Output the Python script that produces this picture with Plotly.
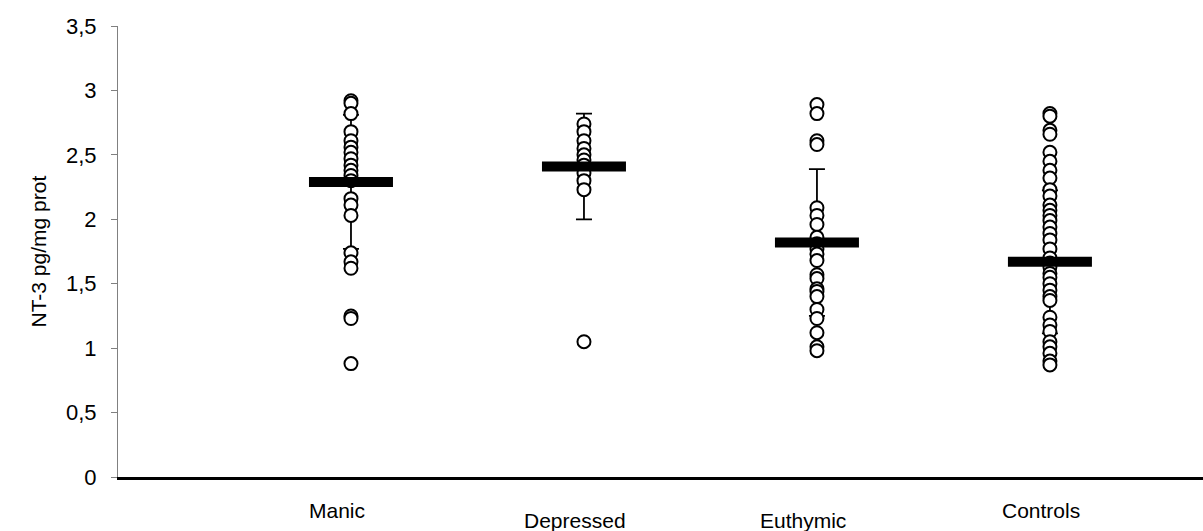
import plotly.graph_objects as go

categories = ["Manic", "Depressed", "Euthymic", "Controls"]

manic = [2.92, 2.90, 2.82, 2.68, 2.61, 2.56, 2.52, 2.47, 2.42, 2.38, 2.34, 2.30,
         2.16, 2.11, 2.03, 1.74, 1.67, 1.62, 1.25, 1.23, 0.88]
depressed = [2.74, 2.68, 2.61, 2.55, 2.50, 2.46, 2.42, 2.36, 2.30, 2.23, 1.05]
euthymic = [2.89, 2.82, 2.61, 2.58, 2.09, 2.03, 1.96, 1.86, 1.81, 1.77, 1.73, 1.68,
            1.57, 1.54, 1.46, 1.44, 1.40, 1.30, 1.23, 1.12, 1.01, 0.98]
controls = [2.82, 2.80, 2.69, 2.66, 2.52, 2.45, 2.38, 2.32, 2.23, 2.18, 2.11, 2.07,
            2.03, 1.99, 1.94, 1.89, 1.84, 1.77, 1.70, 1.66, 1.63, 1.58, 1.55, 1.50,
            1.45, 1.40, 1.37, 1.24, 1.18, 1.13, 1.05, 1.01, 0.96, 0.90, 0.87]
groups = [manic, depressed, euthymic, controls]

means = [2.29, 2.41, 1.82, 1.67]
sds = [0.52, 0.41, 0.57, 0.555]

ytick_vals = [0, 0.5, 1, 1.5, 2, 2.5, 3, 3.5]
ytick_text = ["0", "0,5", "1", "1,5", "2", "2,5", "3", "3,5"]
label_offsets = [-0.06, -0.04, -0.06, -0.04]
label_drop = [0, 10, 10, 0]

positions = list(range(1, len(categories) + 1))

FONT = "Liberation Sans, Arial"

fig = go.Figure()

# error bars (mean +/- SD)
fig.add_trace(go.Scatter(
    x=positions, y=means, mode="markers",
    marker=dict(size=1, color="rgba(0,0,0,0)"),
    error_y=dict(type="data", array=sds, visible=True, color="black",
                 thickness=1.8, width=8),
    hoverinfo="skip", showlegend=False))

# individual points
for pos, vals in zip(positions, groups):
    fig.add_trace(go.Scatter(
        x=[pos] * len(vals), y=vals, mode="markers",
        marker=dict(symbol="circle", size=13, color="white",
                    line=dict(color="black", width=2)),
        showlegend=False))

# mean bars
fig.add_trace(go.Scatter(
    x=positions, y=means, mode="markers",
    marker=dict(symbol="line-ew", size=60, color="black",
                line=dict(color="black", width=10)),
    showlegend=False))

for pos, cat, off, drop in zip(positions, categories, label_offsets, label_drop):
    fig.add_annotation(x=pos + off, xref="x", y=0, yref="y",
                       yanchor="top", yshift=-20 - drop, text=cat,
                       showarrow=False,
                       font=dict(family=FONT, size=21, color="black"))

fig.add_annotation(x=-80 / 1085, xref="paper", y=0.5, yref="paper",
                   text="NT-3 pg/mg prot", textangle=-90, showarrow=False,
                   xanchor="center", yanchor="middle",
                   font=dict(family=FONT, size=21, color="black"))

fig.update_layout(
    width=1203, height=531,
    margin=dict(l=118, r=0, t=26, b=54),
    paper_bgcolor="white", plot_bgcolor="white",
    font=dict(family=FONT, size=21, color="black"),
    xaxis=dict(range=[0, 4.657], showgrid=False, zeroline=False,
               showticklabels=False, ticks="", showline=True,
               linecolor="black", linewidth=2.5),
    yaxis=dict(range=[0, 3.5], tickvals=ytick_vals, ticktext=ytick_text,
               showgrid=False, zeroline=False, showline=True,
               linecolor="#808080", linewidth=1, ticks="outside",
               ticklen=6, tickcolor="#808080", ticklabelstandoff=10,
               tickfont=dict(family=FONT, size=22, color="black")),
)

fig.write_html("out.html")
